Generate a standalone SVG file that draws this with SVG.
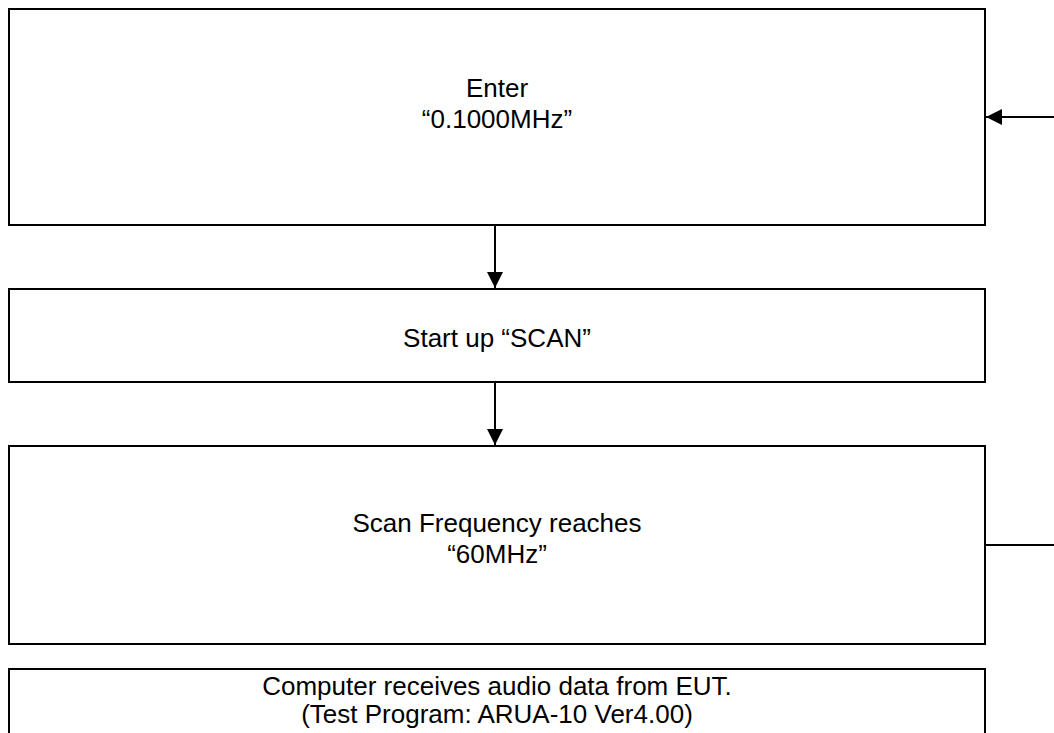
<svg xmlns="http://www.w3.org/2000/svg" width="1054" height="733" viewBox="0 0 1054 733">
<style>
.box{fill:#fff;stroke:#000;stroke-width:2}
.t{font-family:"Liberation Sans",Arial,sans-serif;font-size:26px;fill:#000;text-anchor:middle}
.c{stroke:#000;stroke-width:2;fill:none}
</style>
<defs>
<marker id="ah" markerUnits="userSpaceOnUse" markerWidth="17" markerHeight="16" refX="16" refY="8" orient="auto">
<path d="M0,0 L16,8 L0,16 Z" fill="#000"/>
</marker>
</defs>
<rect width="1054" height="733" fill="#fff"/>
<g id="n1"><rect class="box" x="9" y="9" width="976" height="216"/>
<text class="t" x="497" y="97">Enter</text>
<text class="t" x="497" y="128">“0.1000MHz”</text></g>
<g id="n2"><rect class="box" x="9" y="289" width="976" height="93"/>
<text class="t" x="497" y="347">Start up “SCAN”</text></g>
<g id="n3"><rect class="box" x="9" y="446" width="976" height="198"/>
<text class="t" x="497" y="532">Scan Frequency reaches</text>
<text class="t" x="497" y="563">“60MHz”</text></g>
<g id="n4"><rect class="box" x="9" y="669" width="976" height="80"/>
<text class="t" x="497" y="695">Computer receives audio data from EUT.</text>
<text class="t" x="497" y="723">(Test Program: ARUA-10 Ver4.00)</text></g>
<g id="connectors">
<line class="c" x1="495" y1="225" x2="495" y2="288" marker-end="url(#ah)"/>
<line class="c" x1="495" y1="382" x2="495" y2="445" marker-end="url(#ah)"/>
<line class="c" x1="1054" y1="117" x2="986" y2="117" marker-end="url(#ah)"/>
<line class="c" x1="985" y1="545" x2="1054" y2="545"/>
</g>
</svg>
